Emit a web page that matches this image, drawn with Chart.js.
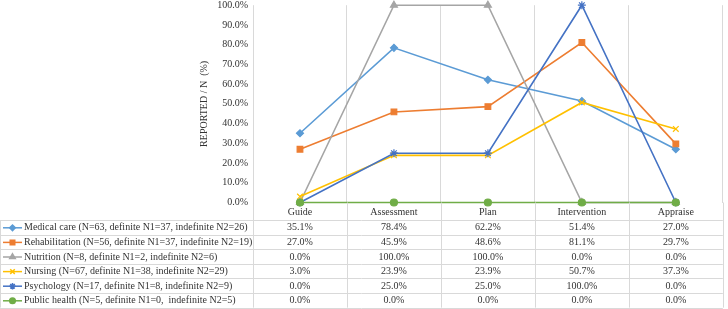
<!DOCTYPE html>
<html>
<head>
<meta charset="utf-8">
<script src="https://cdn.jsdelivr.net/npm/chart.js@4/dist/chart.umd.min.js"></script>
<style>
  html, body { margin: 0; padding: 0; background: #fff; }
  #wrap { width: 728px; height: 309px; }
</style>
</head>
<body>
<div id="wrap"><canvas id="chart" width="728" height="309"></canvas></div>
<script>
// categories along the x axis
const stages = ["Guide", "Assessment", "Plan", "Intervention", "Appraise"];

// series names as shown in the data table
const seriesNames = [
  "Medical care (N=63, definite N1=37, indefinite N2=26)",
  "Rehabilitation (N=56, definite N1=37, indefinite N2=19)",
  "Nutrition (N=8, definite N1=2, indefinite N2=6)",
  "Nursing (N=67, definite N1=38, indefinite N2=29)",
  "Psychology (N=17, definite N1=8, indefinite N2=9)",
  "Public health (N=5, definite N1=0,  indefinite N2=5)"
];

// percentage values per series
const medicalCare = [35.1, 78.4, 62.2, 51.4, 27.0];
const rehabilitation = [27.0, 45.9, 48.6, 81.1, 29.7];
const nutrition = [0.0, 100.0, 100.0, 0.0, 0.0];
const nursing = [3.0, 23.9, 23.9, 50.7, 37.3];
const psychology = [0.0, 25.0, 25.0, 100.0, 0.0];
const publicHealth = [0.0, 0.0, 0.0, 0.0, 0.0];

const yTicks = [0, 10, 20, 30, 40, 50, 60, 70, 80, 90, 100];

const allValues = [medicalCare, rehabilitation, nutrition, nursing, psychology, publicHealth];
const colors = ["#5B9BD5", "#ED7D31", "#A5A5A5", "#FFC000", "#4472C4", "#70AD47"];
const markers = ["rectRot", "rect", "triangle", "crossRot", "star", "circle"];
const markerSize = [3.5, 4, 4, 4, 4, 3.5];

const FONT = "'Liberation Serif', 'Times New Roman', serif";
const TEXT = "#333333";
const GRID = "#D9D9D9";

// draws the Excel-like data table under the plot
const dataTable = {
  id: "dataTable",
  afterDraw(chart) {
    const ctx = chart.ctx;
    const area = chart.chartArea;
    const x = chart.scales.x;
    const headerBottom = area.bottom + 17.5;
    const rowH = 14.6;
    const tableBottom = headerBottom + rowH * seriesNames.length;
    const half = (x.getPixelForValue(1) - x.getPixelForValue(0)) / 2;

    ctx.save();
    ctx.strokeStyle = GRID;
    ctx.lineWidth = 1;
    // vertical lines continuing through the table
    ctx.beginPath();
    for (let i = 0; i <= stages.length; i++) {
      const px = Math.round(x.getPixelForValue(0) - half + i * half * 2) + 0.5;
      ctx.moveTo(px, area.bottom);
      ctx.lineTo(px, tableBottom);
    }
    ctx.moveTo(0.5, headerBottom);
    ctx.lineTo(0.5, tableBottom);
    // horizontal row lines
    for (let r = 0; r <= seriesNames.length; r++) {
      const py = Math.round(headerBottom + r * rowH) + 0.5;
      ctx.moveTo(0, py);
      ctx.lineTo(area.right, py);
    }
    ctx.stroke();

    ctx.font = "10px " + FONT;
    ctx.fillStyle = TEXT;
    ctx.textBaseline = "middle";
    ctx.textAlign = "center";
    stages.forEach((s, i) => {
      ctx.fillText(s, x.getPixelForValue(i), (area.bottom + headerBottom) / 2 + 1);
    });

    seriesNames.forEach((name, r) => {
      const cy = headerBottom + r * rowH + rowH / 2 + 0.5;
      // legend key
      ctx.strokeStyle = colors[r];
      ctx.lineWidth = 1.5;
      ctx.beginPath();
      ctx.moveTo(3, cy);
      ctx.lineTo(22, cy);
      ctx.stroke();
      const opts = {
        pointStyle: markers[r], radius: markerSize[r] * 0.8, rotation: 0, borderWidth: 1.2
      };
      ctx.fillStyle = colors[r];
      ctx.strokeStyle = colors[r];
      if (Chart.helpers && Chart.helpers.drawPoint) {
        Chart.helpers.drawPoint(ctx, opts, 12.5, cy);
      }
      ctx.fillStyle = TEXT;
      ctx.textAlign = "left";
      ctx.fillText(name, 24, cy);
      ctx.textAlign = "center";
      allValues[r].forEach((v, i) => {
        ctx.fillText(v.toFixed(1) + "%", x.getPixelForValue(i), cy);
      });
    });
    ctx.restore();
  }
};

new Chart(document.getElementById("chart"), {
  type: "line",
  data: {
    labels: stages,
    datasets: seriesNames.map((name, i) => ({
      label: name,
      data: allValues[i],
      borderColor: colors[i],
      backgroundColor: colors[i],
      borderWidth: 1.6,
      pointStyle: markers[i],
      pointRadius: markerSize[i],
      pointBorderWidth: 1.2,
      pointHoverRadius: markerSize[i],
      tension: 0,
      clip: false,
      order: seriesNames.length - i
    }))
  },
  options: {
    responsive: false,
    animation: false,
    events: [],
    layout: { padding: { left: 194, right: 2, top: 0, bottom: 106.5 } },
    plugins: {
      legend: { display: false },
      tooltip: { enabled: false }
    },
    scales: {
      x: {
        offset: true,
        grid: { offset: true, color: GRID, drawTicks: false },
        border: { display: false },
        ticks: { display: false },
        afterFit(s) { s.height = 0; }
      },
      y: {
        min: 0,
        max: 100,
        afterBuildTicks(s) { s.ticks = yTicks.map(v => ({ value: v })); },
        grid: { display: false, drawTicks: false },
        border: { display: false },
        ticks: {
          padding: 5,
          color: TEXT,
          font: { family: FONT, size: 10 },
          callback: v => v.toFixed(1) + "%"
        },
        title: {
          display: true,
          text: "REPORTED / N  (%)",
          color: TEXT,
          font: { family: FONT, size: 10 },
          padding: { top: 4, bottom: 4 }
        },
        afterFit(s) { s.width = 59; s.paddingTop = 4; s.paddingBottom = 0; }
      }
    }
  },
  plugins: [dataTable]
});
</script>
</body>
</html>
